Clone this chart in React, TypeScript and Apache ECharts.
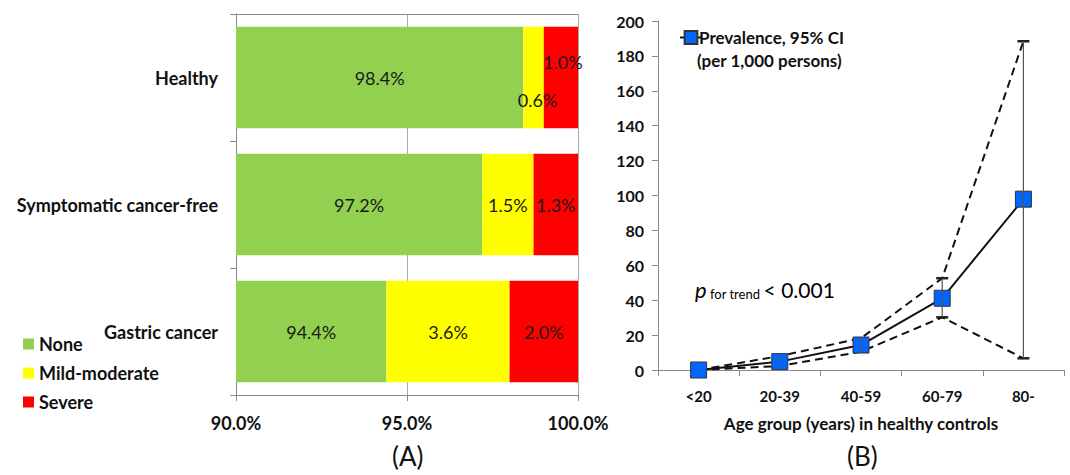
import React, { useEffect, useRef } from "react";
import * as echarts from "echarts";

const groups = ["Healthy", "Symptomatic cancer-free", "Gastric cancer"];
const severityNames = ["None", "Mild-moderate", "Severe"];
const noneVals = [98.4, 97.2, 94.4];
const mildVals = [0.6, 1.5, 3.6];
const severeVals = [1.0, 1.3, 2.0];
const pctTicks = [90, 95, 100];

const ageGroups = ["<20", "20-39", "40-59", "60-79", "80-"];
const prevalence = [0, 4.8, 14.3, 41.1, 97.9];
const ciLower = [0, 2.3, 10.5, 30.2, 6.7];
const ciUpper = [0, 8.0, 18.2, 52.6, 188.4];
const prevalenceName = "Prevalence, 95% CI";

const FONT = 'Lato, "Open Sans", sans-serif';
const AXIS_GRAY = "#8a8a8a";

export default function App() {
  const ref = useRef<HTMLDivElement>(null);
  useEffect(() => {
    if (!ref.current) return;
    const chart = echarts.init(ref.current, undefined, { renderer: "svg" });

    const barLabel = (extra: any = {}) => ({
      show: true,
      position: "inside",
      color: "#1a1a1a",
      fontFamily: FONT,
      fontSize: 18,
      formatter: (p: any) => p.value.toFixed(1) + "%",
      ...extra,
    });

    const barSeries = [noneVals, mildVals, severeVals].map((vals, si) => ({
      name: severityNames[si],
      type: "bar",
      stack: "total",
      xAxisIndex: 0,
      yAxisIndex: 0,
      barCategoryGap: "20%",
      itemStyle: { color: ["#92D050", "#FFFF00", "#FF0000"][si] },
      label: barLabel(),
      data: vals.map((v, gi) => {
        if (gi === 0 && si === 1) return { value: v, label: { offset: [4, 22] } };
        if (gi === 0 && si === 2) return { value: v, label: { offset: [2, -16] } };
        return v;
      }),
    }));

    const ciData = ageGroups.map((_, i) => [i, ciLower[i], ciUpper[i]]);

    const option: any = {
      animation: false,
      textStyle: { fontFamily: FONT },
      grid: [
        { left: 236, right: 492, top: 14, bottom: 80 },
        { left: 658, right: 6, top: 21, bottom: 105 },
      ],
      legend: [
        {
          data: severityNames,
          orient: "vertical",
          left: 18,
          top: 330,
          itemWidth: 11,
          itemHeight: 11,
          itemGap: 11,
          icon: "rect",
          textStyle: { fontFamily: FONT, fontWeight: "bold", fontSize: 18, color: "#111" },
        },
        {
          data: [prevalenceName],
          left: 674,
          top: 24,
          itemWidth: 22,
          itemHeight: 16,
          itemGap: 2,
          textStyle: { fontFamily: FONT, fontWeight: "bold", fontSize: 17, color: "#111", padding: [0, 0, 0, -8] },
        },
      ],
      xAxis: [
        {
          type: "value",
          gridIndex: 0,
          min: 90,
          max: 100,
          interval: 5,
          axisLine: { show: true, lineStyle: { color: AXIS_GRAY } },
          axisTick: { show: true, length: 6, lineStyle: { color: AXIS_GRAY } },
          splitLine: { show: true, lineStyle: { color: "#a8a8a8" } },
          axisLabel: {
            margin: 19,
            fontFamily: FONT,
            fontWeight: "bold",
            fontSize: 18,
            color: "#111",
            formatter: (v: number) => (pctTicks.includes(v) ? v.toFixed(1) + "%" : ""),
          },
        },
        {
          type: "value",
          gridIndex: 0,
          position: "top",
          min: 90,
          max: 100,
          axisLine: { show: true, lineStyle: { color: AXIS_GRAY } },
          axisTick: { show: false },
          axisLabel: { show: false },
          splitLine: { show: false },
        },
        {
          type: "category",
          gridIndex: 1,
          data: ageGroups,
          boundaryGap: true,
          axisLine: { show: true, lineStyle: { color: AXIS_GRAY } },
          axisTick: { show: true, length: 6, lineStyle: { color: AXIS_GRAY } },
          axisLabel: { margin: 18, fontFamily: FONT, fontWeight: "bold", fontSize: 15, color: "#111" },
          name: "Age group (years) in healthy controls",
          nameLocation: "middle",
          nameGap: 45,
          nameTextStyle: { fontFamily: FONT, fontWeight: "bold", fontSize: 17, color: "#111" },
        },
      ],
      yAxis: [
        {
          type: "category",
          gridIndex: 0,
          data: groups,
          inverse: true,
          axisLine: { show: true, lineStyle: { color: AXIS_GRAY } },
          axisTick: { show: true, length: 6, lineStyle: { color: AXIS_GRAY } },
          axisLabel: { margin: 18, fontFamily: FONT, fontWeight: "bold", fontSize: 18, color: "#111" },
        },
        {
          type: "value",
          gridIndex: 1,
          min: 0,
          max: 200,
          interval: 20,
          axisLine: { show: true, lineStyle: { color: AXIS_GRAY } },
          axisTick: { show: true, length: 6, lineStyle: { color: AXIS_GRAY } },
          splitLine: { show: false },
          axisLabel: { margin: 14, fontFamily: FONT, fontWeight: "bold", fontSize: 16, color: "#111" },
        },
      ],
      series: [
        ...barSeries,
        {
          name: "upper",
          type: "line",
          xAxisIndex: 2,
          yAxisIndex: 1,
          data: ciUpper,
          showSymbol: false,
          symbol: "none",
          lineStyle: { color: "#111", width: 2, type: [8, 5] },
          z: 2,
        },
        {
          name: "lower",
          type: "line",
          xAxisIndex: 2,
          yAxisIndex: 1,
          data: ciLower,
          showSymbol: false,
          symbol: "none",
          lineStyle: { color: "#111", width: 2, type: [8, 5] },
          z: 2,
        },
        {
          name: "caps",
          type: "custom",
          xAxisIndex: 2,
          yAxisIndex: 1,
          data: ciData,
          z: 2,
          renderItem: (params: any, api: any) => {
            const lo = api.value(1);
            const hi = api.value(2);
            if (hi - lo <= 0) return { type: "group", children: [] };
            const pLo = api.coord([api.value(0), lo]);
            const pHi = api.coord([api.value(0), hi]);
            const c = 6;
            return {
              type: "group",
              children: [
                { type: "line", shape: { x1: pHi[0] - c, y1: pHi[1], x2: pHi[0] + c, y2: pHi[1] }, style: { stroke: "#222", lineWidth: 2.5 } },
                { type: "line", shape: { x1: pLo[0] - c, y1: pLo[1], x2: pLo[0] + c, y2: pLo[1] }, style: { stroke: "#222", lineWidth: 2.5 } },
              ],
            };
          },
        },
        {
          name: prevalenceName,
          type: "line",
          xAxisIndex: 2,
          yAxisIndex: 1,
          data: prevalence,
          symbol: "rect",
          symbolSize: 16,
          itemStyle: { color: "#0066FF", borderColor: "#333", borderWidth: 1 },
          lineStyle: { color: "#111", width: 2 },
          z: 3,
        },
        {
          name: "bars",
          type: "custom",
          xAxisIndex: 2,
          yAxisIndex: 1,
          data: ciData,
          z: 5,
          renderItem: (params: any, api: any) => {
            const lo = api.value(1);
            const hi = api.value(2);
            if (hi - lo <= 0) return { type: "group", children: [] };
            const pLo = api.coord([api.value(0), lo]);
            const pHi = api.coord([api.value(0), hi]);
            return {
              type: "line",
              shape: { x1: pLo[0], y1: pLo[1], x2: pHi[0], y2: pHi[1] },
              style: { stroke: "#555", lineWidth: 1.2 },
            };
          },
        },
      ],
      graphic: [
        {
          type: "text",
          left: 697,
          top: 52,
          style: { text: "(per 1,000 persons)", font: `bold 17px ${FONT}`, fill: "#111" },
        },
        {
          type: "text",
          left: 695,
          top: 278,
          style: {
            text: "{p|p}{s| for trend }{n|< 0.001}",
            rich: {
              p: { fontFamily: FONT, fontStyle: "italic", fontSize: 22, color: "#111", verticalAlign: "bottom", lineHeight: 26 },
              s: { fontFamily: FONT, fontSize: 13, color: "#111", verticalAlign: "bottom", lineHeight: 26 },
              n: { fontFamily: FONT, fontSize: 21, color: "#111", verticalAlign: "bottom", lineHeight: 26 },
            },
          },
        },
        {
          type: "text",
          left: 392,
          top: 443,
          style: { text: "(A)", font: `26px ${FONT}`, fill: "#111" },
        },
        {
          type: "text",
          left: 847,
          top: 443,
          style: { text: "(B)", font: `26px ${FONT}`, fill: "#111" },
        },
      ],
    };

    chart.setOption(option);
    return () => chart.dispose();
  }, []);

  return (
    <div
      ref={ref}
      style={{ position: "absolute", left: 0, top: 0, width: 1070, height: 475, background: "#fff" }}
    />
  );
}
